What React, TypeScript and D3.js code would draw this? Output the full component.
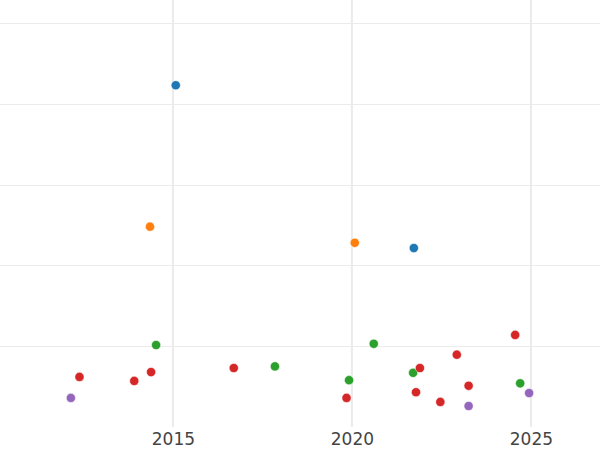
import React, { useEffect, useRef } from "react";
import * as d3 from "d3";

const blueX = [2015.08, 2021.73];
const blueY = [4.23, 2.215];
const orangeX = [2014.36, 2020.08];
const orangeY = [2.48, 2.28];
const greenX = [2014.53, 2017.85, 2019.92, 2020.61, 2021.71, 2024.7];
const greenY = [1.015, 0.75, 0.58, 1.03, 0.67, 0.54];
const redX = [2012.39, 2013.92, 2014.39, 2016.7, 2019.85, 2021.79, 2021.9, 2022.47, 2022.93, 2023.26, 2024.56];
const redY = [0.62, 0.57, 0.68, 0.73, 0.36, 0.43, 0.73, 0.31, 0.895, 0.51, 1.14];
const purpleX = [2012.15, 2023.26, 2024.95];
const purpleY = [0.36, 0.26, 0.42];

const xTicks = [2015, 2020, 2025];
const yTicks = [1, 2, 3, 4, 5];

const series = [
  { color: "#1f77b4", xs: blueX, ys: blueY },
  { color: "#ff7f0e", xs: orangeX, ys: orangeY },
  { color: "#2ca02c", xs: greenX, ys: greenY },
  { color: "#d62728", xs: redX, ys: redY },
  { color: "#9467bd", xs: purpleX, ys: purpleY },
];

export default function App() {
  const ref = useRef<SVGSVGElement>(null);

  useEffect(() => {
    const svg = d3.select(ref.current);
    svg.selectAll("*").remove();

    const width = 600;
    const height = 450;
    const bottom = 427;

    const x = d3.scaleLinear().domain([2010.17, 2026.93]).range([0, width]);
    const y = d3.scaleLinear().domain([0, 5.285]).range([bottom, 0]);

    // grid
    svg
      .append("g")
      .selectAll("line")
      .data(yTicks)
      .join("line")
      .attr("x1", 0)
      .attr("x2", width)
      .attr("y1", (d) => Math.round(y(d)) + 0.5)
      .attr("y2", (d) => Math.round(y(d)) + 0.5)
      .attr("stroke", "#ebebeb")
      .attr("stroke-width", 1.2);

    svg
      .append("g")
      .selectAll("line")
      .data(xTicks)
      .join("line")
      .attr("x1", (d) => x(d))
      .attr("x2", (d) => x(d))
      .attr("y1", 0)
      .attr("y2", bottom)
      .attr("stroke", "#ebebeb")
      .attr("stroke-width", 2);

    // tick labels
    const xAxis = svg
      .append("g")
      .attr("transform", `translate(0,${bottom})`)
      .call(d3.axisBottom(x).tickValues(xTicks).tickFormat(d3.format("d")).tickSize(0).tickPadding(6));
    xAxis.select(".domain").remove();
    xAxis
      .selectAll("text")
      .attr("font-family", "DejaVu Sans")
      .attr("font-size", 17)
      .attr("fill", "#444");

    // points
    series.forEach((s) => {
      svg
        .append("g")
        .selectAll("circle")
        .data(s.xs.map((v, i) => [v, s.ys[i]]))
        .join("circle")
        .attr("cx", (d) => x(d[0]))
        .attr("cy", (d) => y(d[1]))
        .attr("r", 4.6)
        .attr("fill", s.color)
        .attr("stroke", "#fff")
        .attr("stroke-width", 0.5);
    });
  }, []);

  return (
    <svg
      ref={ref}
      width={600}
      height={450}
      style={{ position: "absolute", left: 0, top: 0, background: "#fff" }}
    ></svg>
  );
}
